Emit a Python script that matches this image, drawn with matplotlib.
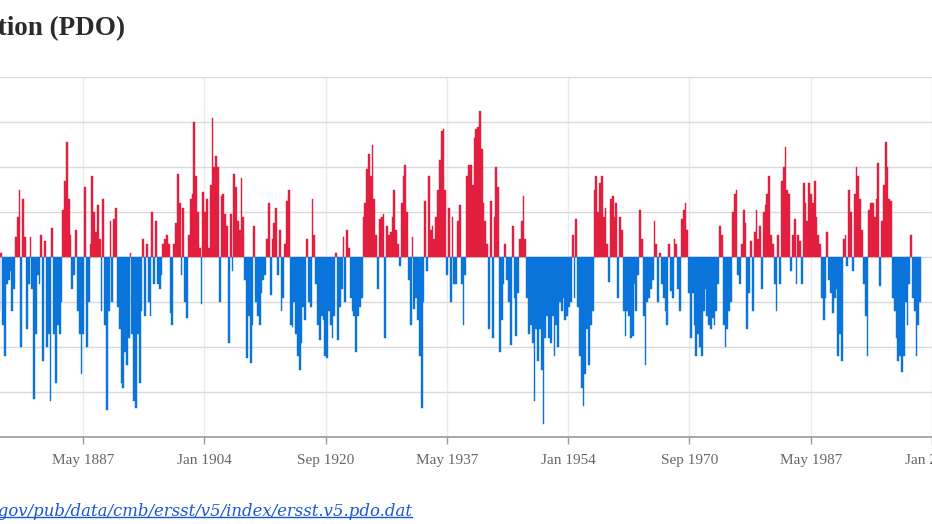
import numpy as np
import matplotlib
matplotlib.use("Agg")
import matplotlib.pyplot as plt
from matplotlib.lines import Line2D

# PDO index, quarterly values (first quarter starts 1875.75)
start_year = 1875.75
step = 0.25

pdo_1875_1897 = [
    -1.2, 0.1, -1.5, -2.2, -0.6, -0.5, -0.3, -1.2, -0.7, 0.45,
    0.9, 1.5, -2.0, 1.3, 0.45, -1.6, -0.6, 0.45, -0.7, -3.15,
    -1.7, -0.4, -0.6, 0.5, -2.3, 0.35, -2.0, -1.7, -3.2, 0.65,
    -1.7, -2.8, -1.5, -1.7, -1.0, 1.05, 1.7, 2.55, 1.3, 0.5,
    -0.7, -0.4, 0.6, -1.2, -1.7, -2.6, -1.7, 1.55, -2.0, -1.0,
    0.3, 1.8, 1.0, 0.55, 1.15, 0.4, -1.2, 1.3, -1.5, -3.4,
    -1.2, 0.8, -1.0, 0.85, 1.1, -1.1, -1.6, -2.8, -2.9, -2.1,
    -2.4, -1.8, 0.1, -1.7, -3.2, -3.35, -1.7, -2.8, -1.2, 0.4,
    -1.3, 0.3, -1.0, -1.3, 1.0, -0.6, 0.8, -0.6,
]
pdo_1897_1918 = [
    -0.7, -0.4, 0.3, 0.4, 0.5, 0.3, -1.25, -1.5, 0.3, 0.75,
    1.85, 1.2, -0.4, 1.1, -1.0, -1.35, 0.5, 1.3, 1.4, 3.0,
    1.8, 1.0, 0.2, -1.05, 1.45, 1.0, 1.3, 0.2, 1.6, 3.1,
    2.0, 2.25, 2.0, -1.0, 1.35, 1.4, 0.95, 0.7, -1.9, 0.95,
    -0.3, 1.85, 1.55, 0.8, 0.6, 1.75, 0.9, -0.5, -2.25, -1.3,
    -2.35, -1.5, 0.7, -1.0, -1.3, -1.5, -0.8, -0.5, -0.4, 0.4,
    1.2, -0.85, 0.4, 0.75, 1.1, -0.4, 0.6, -1.2, -0.9, 0.3,
    1.25, 1.5, -1.5, -1.55, -1.0, -1.7, -2.2, -2.5, -1.9, -1.1,
    -1.4, 0.4, -1.0, -1.1,
]
pdo_1918_1939 = [
    1.3, 0.5, -0.6, -1.5, -1.85, -1.3, -1.4, -2.2, -2.25, -1.2,
    -1.5, -1.8, -1.3, 0.1, -1.85, -1.1, -0.7, 0.45, -1.0, 0.6,
    0.2, -0.9, -1.2, -1.3, -2.1, -1.3, -1.1, -0.9, 0.9, 1.2,
    1.95, 2.3, 1.8, 2.5, 1.3, 0.5, -0.7, 0.85, 0.9, 0.95,
    -1.8, 0.7, 0.5, 0.55, 0.9, 1.5, 0.6, 0.3, -0.2, 1.2,
    1.8, 2.05, 1.0, -0.5, -1.5, 0.45, -1.15, -0.9, -1.4, -2.2,
    -3.35, -1.0, 1.25, -0.3, 1.8, 0.6, 0.7, 0.4, 0.9, 1.5,
    2.15, 2.8, 2.85, 1.5, -0.4, 1.1, -1.0, 0.9, -0.6, -0.6,
    0.8, 1.15, -0.6,
]
pdo_1939_1960 = [
    -1.5, -0.4, 1.8, 2.05, 2.05, 1.6, 2.65, 2.85, 2.9, 3.25,
    2.4, 1.2, 0.8, 0.3, -1.6, 1.25, -1.8, 0.9, 2.0, 1.55,
    -2.1, -1.4, -0.6, 0.3, -0.5, -1.0, -1.95, 0.7, -0.9, -1.75,
    -0.8, 0.4, 0.8, 1.35, 0.4, -0.9, -1.7, -1.5, -1.9, -3.2,
    -1.6, -2.3, -1.6, -2.5, -3.7, -1.8, -1.3, -1.8, -1.9, -1.3,
    -2.2, -1.5, -2.0, -1.0, -1.2, -0.9, -1.4, -1.3, -1.1, -1.0,
    0.5, -0.9, 0.85, -1.1, -2.2, -2.9, -3.3, -2.6, -1.6, -2.4,
    -1.5, -1.2, 1.5, 1.8, 1.0, 1.65, 1.8, 0.9, 1.1, 0.3,
    -0.55, 1.3, 1.35, 0.9,
]
pdo_1960_1981 = [
    1.2, -0.9, 0.9, 0.6, -1.2, -1.75, -1.2, -1.3, -1.8, -1.75,
    -0.6, -1.2, -0.4, 1.05, 0.4, -1.3, -2.4, -1.0, -0.9, -0.7,
    -0.5, 0.8, 0.3, -1.0, 0.1, -0.6, -0.9, -1.2, -1.5, 0.3,
    -0.75, -0.9, 0.4, 0.3, -0.7, -1.2, 0.85, 1.05, 1.2, 0.6,
    -0.8, -1.8, -0.8, -1.5, -2.2, -1.7, -2.0, -2.2, -1.2, -0.7,
    -1.3, -1.5, -1.6, -1.35, -1.5, -1.2, -0.6, 0.7, 0.5, -1.5,
    -2.0, -1.6, -1.2, -1.0, 1.0, 1.4, 1.5, -0.4, -0.6, 0.3,
    1.05, 0.75, -1.6, -0.8, 0.35, -1.2, 0.55, 1.05, 0.4, 0.7,
    -0.7, 1.0, 1.15, 1.4, 1.8,
]
pdo_1981_2002 = [
    0.5, 0.3, -0.6, -1.2, 0.5, -0.6, 1.7, 2.0, 2.45, 1.5,
    1.4, -0.3, 0.5, 0.85, -0.6, 0.5, 0.35, -0.6, 1.65, 1.2,
    0.8, 1.65, 1.4, 1.2, 1.7, 0.9, 0.5, 0.3, -0.9, -1.4,
    -0.9, 0.55, -0.5, -0.8, -1.25, -0.9, -0.7, -2.2, -1.7, -2.3,
    0.4, 0.5, -0.2, 1.5, 1.0, -0.3, 1.4, 2.0, 1.8, 1.3,
    0.6, -0.6, -1.3, -2.2, 1.05, 1.2, 1.2, 0.9, 1.3, 2.1,
    -0.65, 0.8, 1.6, 2.55, 2.0, 1.3, 1.25, -0.9, -1.2, -1.8,
    -2.3, -2.2, -2.55, -2.2, -1.0, -1.5, -0.6, 0.5, -0.9, -1.2,
    -2.2, -1.5, -1.0,
]

tick_years = [1887 + 4/12, 1904.0, 1920 + 8/12, 1937 + 4/12, 1954.0, 1970 + 8/12, 1987 + 4/12, 2004.0]
tick_labels = ["May 1887", "Jan 1904", "Sep 1920", "May 1937", "Jan 1954", "Sep 1970", "May 1987", "Jan 2004"]

pdo = np.array(pdo_1875_1897 + pdo_1897_1918 + pdo_1918_1939
               + pdo_1939_1960 + pdo_1960_1981 + pdo_1981_2002)
years = start_year + step * np.arange(len(pdo))

red = "#e31f40"
blue = "#0a74da"
link_color = "#1a55d6"
W, H = 932, 524

fig = plt.figure(figsize=(W / 100, H / 100), dpi=100)
ax = fig.add_axes([0.0, (H - 437) / H, 1.0, (437 - 77) / H])

colors = np.where(pdo >= 0, red, blue)
ax.bar(years, pdo, width=step, align="edge", color=colors, edgecolor=colors,
       linewidth=0.3, zorder=3)

ax.set_xlim(1875.936, 2002.394)
ax.set_ylim(-4, 4)
ax.set_yticks(np.arange(-4, 5, 1))
ax.set_yticklabels([])
ax.tick_params(axis="y", length=0)
ax.set_xticks(tick_years)
ax.set_xticklabels(tick_labels)
ax.tick_params(axis="x", length=5, width=1, color="#9a9a9a", pad=7,
               labelsize=11, labelcolor="#666666")
for lab in ax.get_xticklabels():
    lab.set_fontfamily("Liberation Serif")

ax.grid(axis="y", color="#dadada", linewidth=1.0, zorder=0)
ax.grid(axis="x", color="#ebebeb", linewidth=1.0, zorder=0)
for s in ["top", "left", "right"]:
    ax.spines[s].set_visible(False)
ax.spines["bottom"].set_color("#9a9a9a")
ax.spines["bottom"].set_linewidth(1.2)

fig.text(125 / W, 1 - 29 / H, "Pacific Decadal Oscillation (PDO)",
         ha="right", va="center", fontsize=19.5, fontweight="bold",
         family="Liberation Serif", color="#2b2b2b")

# source link: size it so the visible tail ends at x=412 and is ~412 px long
url = "https://www.ncei.noaa.gov/pub/data/cmb/ersst/v5/index/ersst.v5.pdo.dat"
tail = "gov/pub/data/cmb/ersst/v5/index/ersst.v5.pdo.dat"
fig.canvas.draw()
probe = fig.text(0, 0, tail, fontsize=12, style="italic", family="DejaVu Serif")
tw = probe.get_window_extent().width
probe.remove()
link_size = 12 * 412 / tw

link = fig.text(412 / W, 1 - 511 / H, url, ha="right", va="center",
                fontsize=link_size, style="italic", family="DejaVu Serif",
                color=link_color)

fig.canvas.draw()
bb = link.get_window_extent().transformed(fig.transFigure.inverted())
fig.add_artist(Line2D([bb.x0, bb.x1], [bb.y0 + 2.5 / H, bb.y0 + 2.5 / H],
                      transform=fig.transFigure, color=link_color, linewidth=1))

fig.savefig("out.png", dpi=100)
